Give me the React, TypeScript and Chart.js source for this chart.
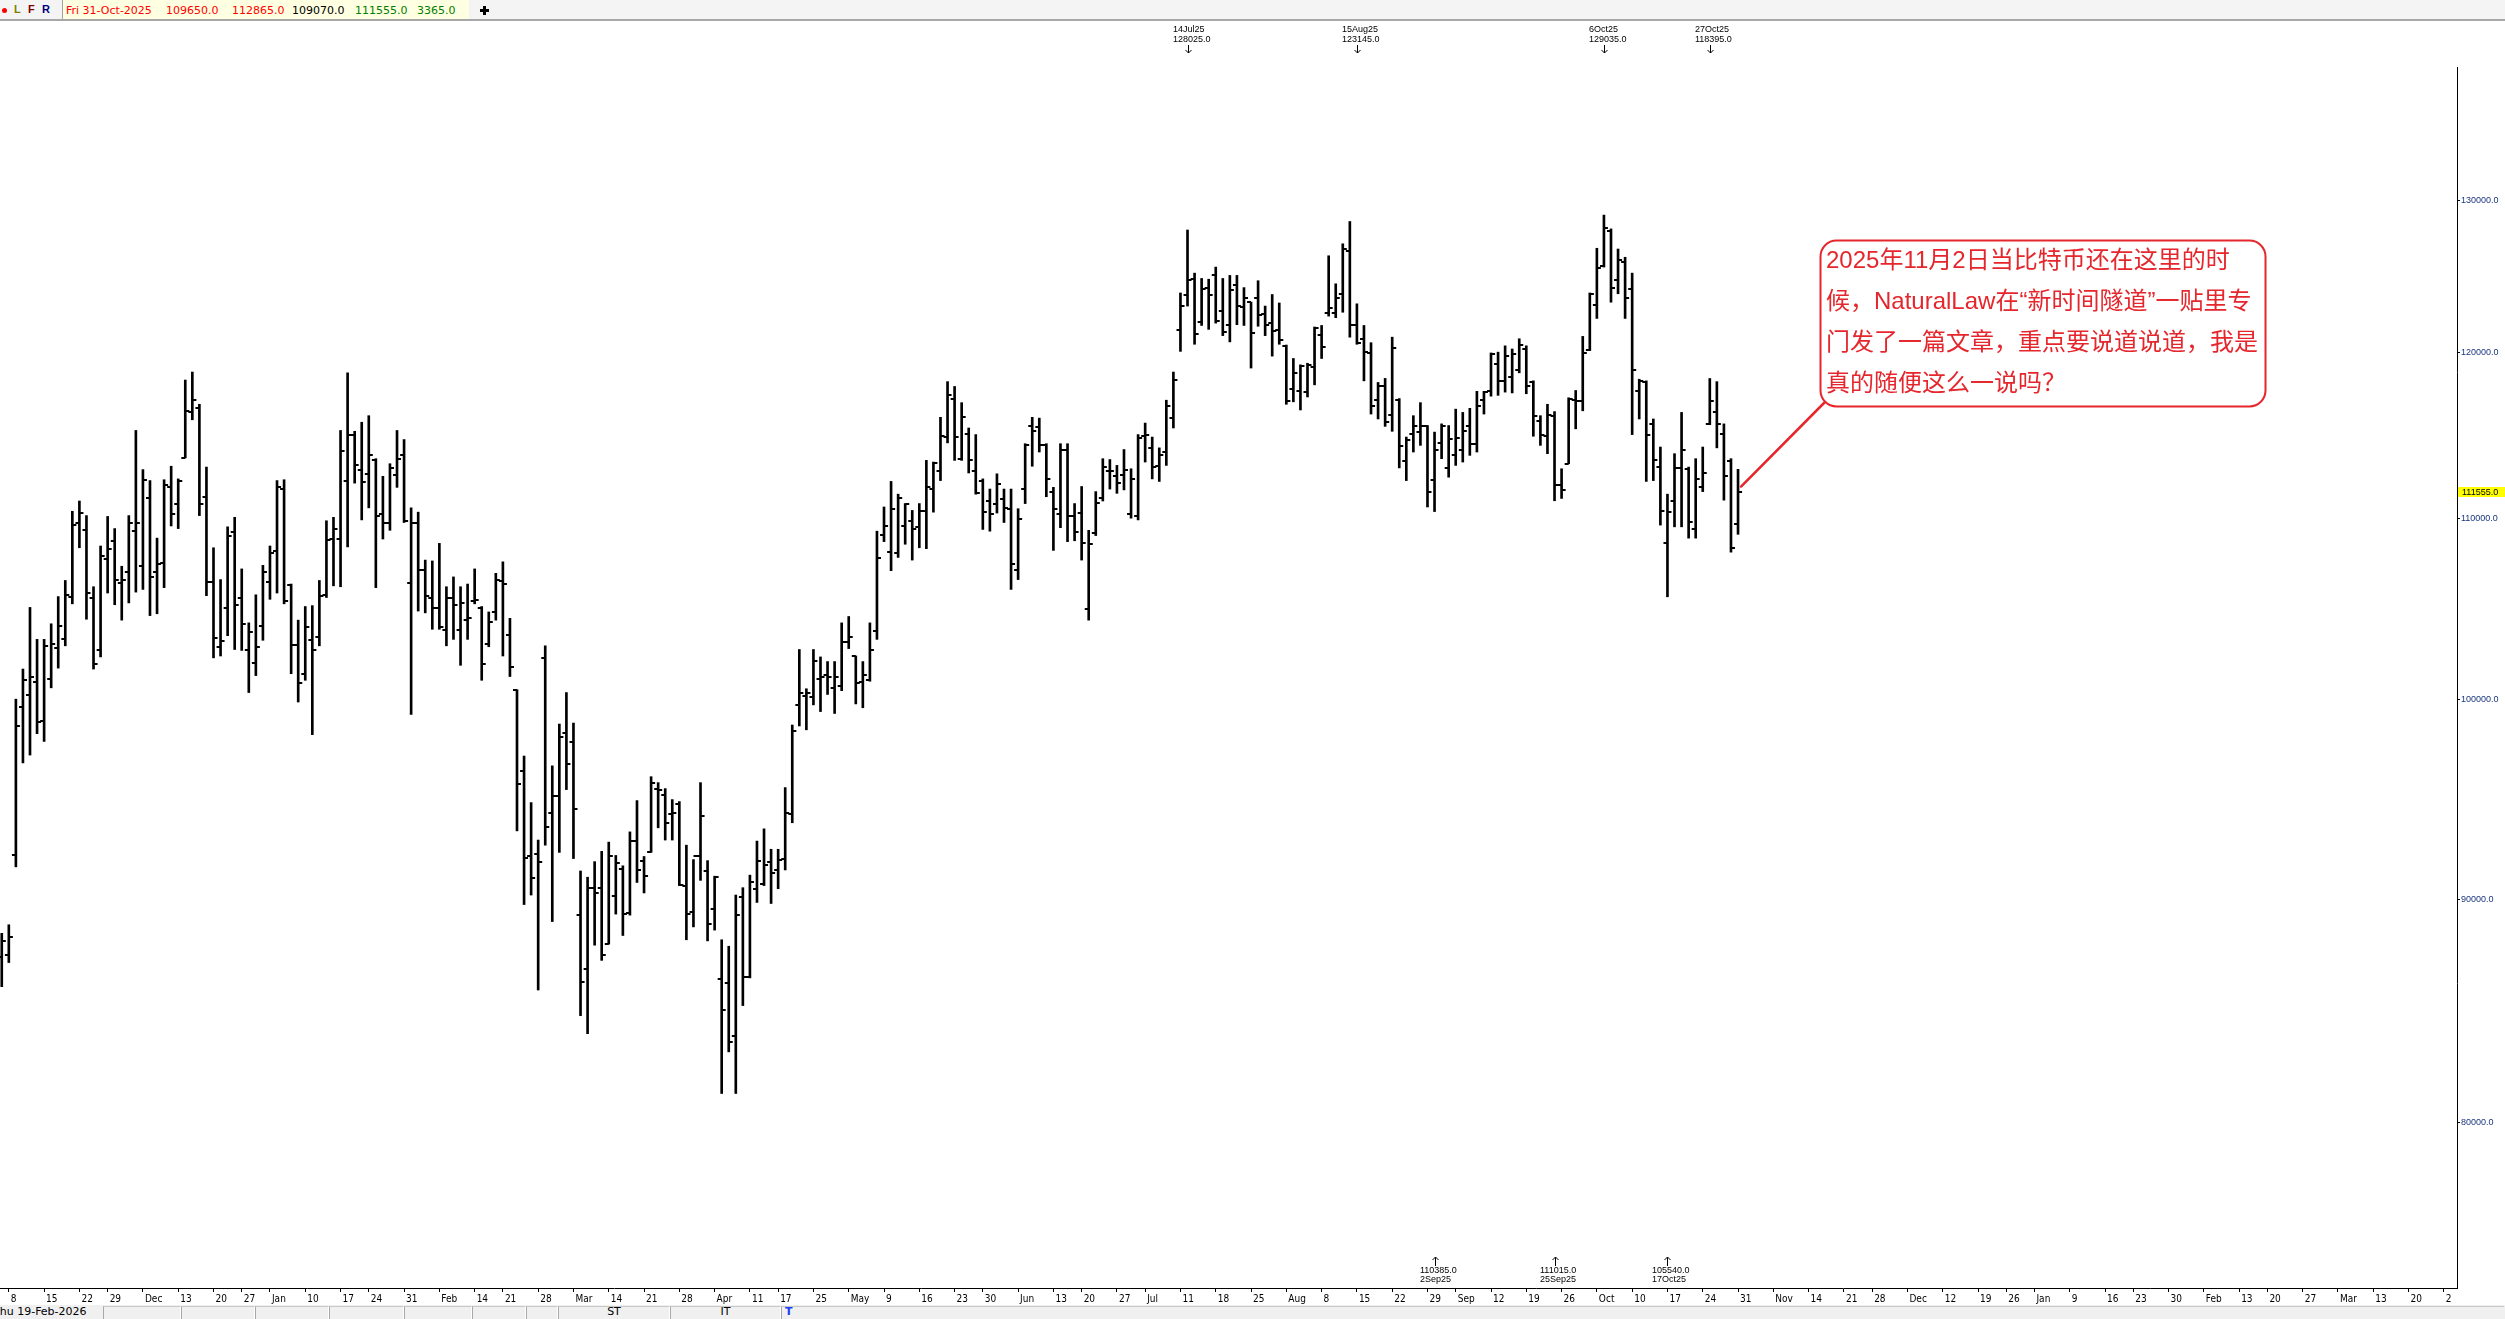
import React, { useEffect, useRef } from "react";
import { Chart, registerables } from "chart.js";

Chart.register(...registerables);

const W = 2505;
const H = 1319;

// ---- calendar (trading days) ----
const FIRST_DAY = "2024-11-07";
const LAST_DAY = "2026-03-30";
const CLOSED_DAYS = [
  "2024-11-28", "2024-12-25", "2025-01-01", "2025-01-20", "2025-02-17",
  "2025-04-18", "2025-05-26", "2025-06-19", "2025-07-04", "2025-09-01",
  "2025-11-27", "2025-12-25", "2026-01-01", "2026-01-19", "2026-02-16",
];
const MONTHS = ["Jan", "Feb", "Mar", "Apr", "May", "Jun", "Jul", "Aug", "Sep", "Oct", "Nov", "Dec"];

// ---- daily OHLC, 7-Nov-2024 .. 31-Oct-2025 ----
const OPEN = [
  87300, 87400, 92100, 99600, 100200, 100900, 98850, 101050, 102750, 103200,
  105550, 109750, 109300, 105450, 102600, 107650, 108700, 106300, 106950, 109250,
  107250, 111150, 106900, 107450, 111850, 110800, 113550, 116300, 116600, 111250,
  106350, 102800, 104900, 109200, 105450, 102650, 101950, 103950, 106350, 108100,
  111700, 106200, 102900, 101350, 103150, 103350, 105650, 108800, 108800, 112200,
  114950, 112800, 112600, 113400, 110250, 109750, 112550, 113750, 106300, 109750,
  107050, 105500, 104900, 103700, 105500, 103700, 104250, 105300, 104900, 102950,
  104700, 106400, 103450, 100500, 96300, 92050, 92150, 102200, 94200, 95050,
  98250, 97750, 89250, 86750, 90550, 90550, 87900, 90150, 91450, 89350,
  92800, 91850, 92250, 95400, 95100, 94150, 94650, 90650, 89400, 92050,
  91350, 89550, 86300, 86100, 83750, 90100, 86400, 90500, 90750, 91800,
  91400, 91950, 94150, 99700, 100150, 100100, 101050, 101300, 100600, 100700,
  103050, 102300, 100900, 101000, 103650, 109050, 108050, 108000, 109550, 109850,
  109500, 110400, 111700, 112750, 114800, 117100, 113500, 115000, 112750, 112200,
  111000, 110800, 111100, 110550, 107050, 111700, 115500, 115400, 114300, 111500,
  110250, 114050, 110100, 110300, 104850, 109150, 111150, 112750, 112500, 112550,
  110250, 110100, 114850, 114150, 113050, 113900, 115950, 121450, 123700, 124750,
  122000, 124200, 125050, 122700, 121750, 124350, 122950, 123250, 123500, 122500,
  121900, 121450, 120450, 117750, 117600, 117550, 119100, 121150, 122550, 122550,
  123800, 126600, 121800, 120900, 120000, 117050, 117900, 116150, 117050, 113350,
  115000, 115100, 115450, 112250, 114450, 112950, 113700, 114050, 115450, 114400,
  117050, 117600, 119300, 118250, 118500, 118900, 120250, 118200, 115750, 114850,
  116100, 111950, 113200, 117050, 117000, 120200, 123100, 125600, 127950, 124700,
  125900, 124100, 117650, 118200, 115600, 113000, 108550, 111000, 112950, 112900,
  109400, 111850, 115600, 116350, 115000, 113350, 109650,
];
const HIGH = [
  88400, 88800, 100000, 101600, 104950, 103200, 103200, 104050, 105550, 106450,
  110400, 111000, 110150, 106100, 108400, 110100, 109400, 107250, 110150, 115200,
  112850, 112200, 108850, 112250, 113050, 112300, 118300, 118800, 116800, 113000,
  108300, 106500, 109500, 110050, 107100, 104100, 105650, 107300, 108400, 112200,
  112250, 106250, 104250, 105000, 105050, 106450, 109850, 110050, 115200, 118750,
  115150, 115700, 116100, 113500, 112450, 113200, 115200, 114650, 110600, 110350,
  107600, 107550, 108550, 106100, 106650, 106100, 106250, 107100, 105000, 104700,
  106850, 107500, 104350, 100500, 97050, 94700, 92850, 102850, 96550, 98700,
  100350, 98750, 91350, 91050, 91800, 92300, 92750, 92100, 91600, 93250,
  94800, 92050, 96000, 95700, 95400, 94850, 94750, 92600, 91900, 95700,
  91850, 91100, 88100, 87800, 90200, 90550, 91150, 92800, 93400, 92400,
  92400, 95450, 98650, 102650, 100550, 102650, 102250, 102000, 102000, 104100,
  104450, 102300, 102000, 104100, 109250, 110650, 112150, 111400, 110850, 110450,
  110850, 113400, 113300, 116000, 118200, 117900, 116900, 115350, 114950, 112300,
  111700, 112600, 111700, 111700, 110550, 114400, 116000, 115950, 114400, 111800,
  114400, 114400, 110850, 111850, 109300, 111550, 113500, 113450, 113100, 114050,
  112900, 114950, 115650, 114800, 114150, 117050, 118800, 123850, 128025, 125150,
  124800, 124750, 125550, 124800, 125000, 125000, 124200, 123250, 124650, 123000,
  123750, 123200, 120500, 119650, 119250, 119350, 121650, 121750, 126300, 124450,
  127100, 128600, 123145, 121750, 120650, 118150, 118400, 121000, 117150, 114800,
  116100, 116900, 115500, 115100, 115600, 115500, 116500, 116300, 116550, 117600,
  117600, 120000, 120050, 120450, 120250, 120900, 120450, 118250, 116100, 116800,
  116350, 112900, 117200, 117650, 121050, 123850, 126800, 129035, 128100, 126750,
  126200, 125150, 118350, 118250, 115900, 114200, 111400, 113800, 116300, 113000,
  113500, 114200, 118395, 118200, 115600, 113500, 112865,
];
const LOW = [
  85950, 87050, 91550, 96700, 97100, 98200, 97800, 100600, 101650, 102850,
  105150, 108300, 104300, 101600, 102250, 105750, 105100, 104250, 105200, 105800,
  105950, 104500, 104600, 106050, 109550, 109400, 113550, 115850, 110150, 105600,
  102200, 102300, 103400, 102650, 102600, 100350, 101250, 103150, 105400, 105750,
  105150, 101350, 99850, 101000, 98150, 102850, 105500, 106150, 106100, 108350,
  112050, 109900, 110600, 106050, 108800, 109300, 111800, 109750, 99200, 104750,
  104650, 103750, 103750, 102850, 103200, 101800, 103200, 105150, 101000, 102800,
  104250, 102300, 101200, 93300, 89750, 90200, 85800, 92600, 88950, 92250,
  95350, 91950, 84650, 83850, 87850, 87150, 87900, 89300, 88300, 89250,
  90800, 90300, 92250, 93450, 92850, 92850, 90650, 88100, 88700, 90900,
  88050, 88550, 81250, 83050, 81250, 85100, 86350, 89850, 90650, 89800,
  90500, 91400, 93700, 98600, 98400, 99700, 99350, 100250, 99250, 100450,
  102700, 99750, 99550, 100950, 103200, 108650, 107000, 107750, 108500, 107600,
  108300, 108250, 110350, 112200, 114450, 113400, 113400, 112650, 111400, 109350,
  109250, 110300, 109750, 105950, 106500, 110850, 113050, 113900, 111250, 108150,
  109450, 108650, 108700, 107600, 104250, 109000, 111000, 111700, 111450, 111650,
  110000, 109900, 113300, 112300, 112150, 113100, 115350, 120100, 123000, 120550,
  121750, 121500, 121900, 121100, 120700, 121800, 121750, 119050, 121700, 121100,
  119800, 120550, 116800, 116950, 116450, 117250, 118000, 119650, 122350, 122250,
  122600, 121000, 120550, 118250, 116200, 115900, 115450, 115150, 112950, 112200,
  113900, 114300, 110650, 110385, 113500, 112400, 113100, 113300, 113700, 113900,
  116200, 117300, 117350, 117550, 117500, 118750, 117450, 114850, 114300, 113800,
  111015, 111150, 113200, 115300, 116400, 120150, 122200, 125550, 123250, 123800,
  122200, 114950, 115900, 112150, 112200, 109600, 105540, 109500, 109500, 108850,
  108850, 111550, 115550, 114150, 111050, 108050, 109070,
];
const CLOSE = [
  88050, 88250, 98600, 101000, 101150, 98800, 102850, 102950, 103950, 105650,
  109600, 110300, 105750, 101850, 107850, 108250, 106500, 106450, 109750, 109700,
  112250, 106650, 107400, 111950, 110250, 112150, 116400, 117050, 110800, 106350,
  103250, 103100, 108950, 105100, 104050, 103600, 102800, 106900, 108000, 111850,
  105300, 102900, 100850, 103900, 102600, 105600, 108750, 109350, 113950, 114950,
  113100, 112100, 113700, 110150, 109750, 112950, 113500, 109850, 109750, 107050,
  105600, 104900, 103850, 105500, 105100, 105200, 104350, 105350, 101850, 104150,
  106500, 106250, 101700, 95650, 92000, 91000, 91800, 93500, 95050, 98050,
  96650, 94400, 86150, 90550, 90300, 87400, 92050, 91750, 89300, 92800,
  91400, 91100, 95700, 95350, 93700, 94200, 90700, 89300, 92050, 94050,
  88850, 91050, 84900, 83500, 89250, 86400, 90800, 91850, 91650, 91250,
  91900, 94200, 98350, 100300, 100300, 102050, 101150, 101150, 101200, 103050,
  103350, 100850, 101300, 102650, 107700, 109550, 110550, 111150, 110800, 109350,
  110400, 111800, 113250, 114850, 117350, 114800, 116000, 113400, 111450, 110350,
  110250, 112000, 110600, 107400, 109950, 114350, 115150, 114300, 112300, 110550,
  114050, 110100, 109200, 108600, 108500, 110900, 113000, 112750, 112050, 112800,
  112300, 114750, 114900, 113000, 113700, 116700, 118300, 123000, 124700, 121200,
  124100, 123750, 122050, 121300, 124050, 123000, 123500, 121250, 122450, 121750,
  121400, 120850, 117000, 118750, 119200, 119250, 121600, 120400, 122850, 123500,
  126750, 121800, 120650, 120050, 116700, 117900, 115700, 120300, 114250, 114600,
  115450, 115450, 111500, 114050, 115500, 114700, 114750, 115150, 114400, 116700,
  117550, 119950, 118250, 119800, 119950, 120500, 117900, 116100, 114900, 116150,
  111950, 111650, 117150, 117000, 120000, 123800, 125500, 128150, 124200, 126050,
  123500, 118900, 118250, 114950, 113400, 110400, 110350, 112950, 114050, 109800,
  112300, 112650, 117000, 115600, 112450, 108300, 111555,
];

const Y_TICKS = [80000, 90000, 100000, 110000, 120000, 130000];
const Y_MIN = 73340;
const Y_MAX = 139500;
const LAST_PRICE = 111555;

const TOP_MARKS = [
  { date: "2025-07-14", label: "14Jul25", value: "128025.0" },
  { date: "2025-08-15", label: "15Aug25", value: "123145.0" },
  { date: "2025-10-06", label: "6Oct25", value: "129035.0" },
  { date: "2025-10-27", label: "27Oct25", value: "118395.0" },
];
const BOTTOM_MARKS = [
  { date: "2025-09-02", label: "2Sep25", value: "110385.0" },
  { date: "2025-09-25", label: "25Sep25", value: "111015.0" },
  { date: "2025-10-17", label: "17Oct25", value: "105540.0" },
];

const NOTE_LINES = [
  "2025年11月2日当比特币还在这里的时",
  "候，NaturalLaw在“新时间隧道”一贴里专",
  "门发了一篇文章，重点要说道说道，我是",
  "真的随便这么一说吗？",
];

const HEADER_FLAGS = [
  { text: "L", x: 14, color: "#808000" },
  { text: "F", x: 28, color: "#800000" },
  { text: "R", x: 42, color: "#000080" },
];
const HEADER_QUOTE = [
  { text: "Fri 31-Oct-2025", x: 66, color: "#ff0000" },
  { text: "109650.0", x: 166, color: "#ff0000" },
  { text: "112865.0", x: 232, color: "#ff0000" },
  { text: "109070.0", x: 292, color: "#000000" },
  { text: "111555.0", x: 355, color: "#008000" },
  { text: "3365.0", x: 417, color: "#008000" },
];
const STATUS_DIVIDERS = [103, 181, 255, 329, 404, 472, 526, 558, 670, 781];

// ---- derived calendar ----
const isoOf = (d: Date) => d.toISOString().slice(0, 10);
function buildTradingDays(): string[] {
  const closed = new Set(CLOSED_DAYS);
  const out: string[] = [];
  const d = new Date(FIRST_DAY + "T00:00:00Z");
  const end = new Date(LAST_DAY + "T00:00:00Z");
  while (d.getTime() <= end.getTime()) {
    const dow = d.getUTCDay();
    const iso = isoOf(d);
    if (dow !== 0 && dow !== 6 && !closed.has(iso)) out.push(iso);
    d.setUTCDate(d.getUTCDate() + 1);
  }
  return out;
}
const DATES = buildTradingDays();
const TICK_LABELS = new Map<number, string>();
(() => {
  const closed = new Set(CLOSED_DAYS);
  DATES.forEach((iso, i) => {
    const d = new Date(iso + "T00:00:00Z");
    const dow = d.getUTCDay();
    const next = isoOf(new Date(d.getTime() + 86400000));
    if (dow === 5 || (dow === 4 && closed.has(next))) {
      const day = d.getUTCDate();
      TICK_LABELS.set(i, day <= 7 ? MONTHS[d.getUTCMonth()] : String(day));
    }
  });
})();

const PLOT_RIGHT = 2457;
const BAR_STEP = 7.058;
const X_MIN = -0.25;
const X_MAX = X_MIN + PLOT_RIGHT / BAR_STEP;

const RED = "#e5262c";

const annotationPlugin = {
  id: "annotations",
  afterDraw(chart: any) {
    const { ctx, chartArea } = chart;
    const xs = chart.scales.x;
    const ys = chart.scales.y;
    ctx.save();
    // clip the x labels that run past the plot's right edge
    ctx.fillStyle = "#ffffff";
    ctx.fillRect(chartArea.right - 5, chartArea.bottom + 5, W - chartArea.right + 5, 12);

    ctx.fillStyle = "#000";
    ctx.strokeStyle = "#000";
    ctx.lineWidth = 1;
    ctx.font = '9px "Liberation Sans", Arial, sans-serif';
    ctx.textAlign = "left";
    ctx.textBaseline = "middle";
    for (const m of TOP_MARKS) {
      const x = Math.round(xs.getPixelForValue(DATES.indexOf(m.date))) + 0.5;
      ctx.fillText(m.label, x - 15.5, 30);
      ctx.fillText(m.value, x - 15.5, 39.5);
      ctx.beginPath();
      ctx.moveTo(x, 45);
      ctx.lineTo(x, 53);
      ctx.moveTo(x - 3, 50);
      ctx.lineTo(x, 53);
      ctx.lineTo(x + 3, 50);
      ctx.stroke();
    }
    for (const m of BOTTOM_MARKS) {
      const x = Math.round(xs.getPixelForValue(DATES.indexOf(m.date))) + 0.5;
      ctx.beginPath();
      ctx.moveTo(x, 1266);
      ctx.lineTo(x, 1257);
      ctx.moveTo(x - 3, 1260);
      ctx.lineTo(x, 1257);
      ctx.lineTo(x + 3, 1260);
      ctx.stroke();
      ctx.fillText(m.value, x - 15.5, 1271);
      ctx.fillText(m.label, x - 15.5, 1280);
    }
    // last price tag on the axis
    const yl = Math.round(ys.getPixelForValue(LAST_PRICE));
    ctx.fillStyle = "#ffff00";
    ctx.fillRect(chartArea.right + 1, yl - 5, W - chartArea.right - 1, 10);
    ctx.fillStyle = "#000";
    ctx.fillText(LAST_PRICE.toFixed(1), chartArea.right + 5, yl + 0.5);

    // callout
    const lastIdx = CLOSE.length - 1;
    const ex = xs.getPixelForValue(lastIdx) + 3;
    const ey = ys.getPixelForValue(CLOSE[lastIdx]) - 5;
    ctx.strokeStyle = RED;
    ctx.lineWidth = 2.5;
    ctx.lineCap = "round";
    ctx.beginPath();
    ctx.moveTo(1825, 402);
    ctx.lineTo(ex, ey);
    ctx.stroke();
    ctx.beginPath();
    ctx.roundRect(1820.5, 240.5, 445, 166, 16);
    ctx.fillStyle = "#ffffff";
    ctx.fill();
    ctx.lineWidth = 2;
    ctx.stroke();
    ctx.fillStyle = RED;
    ctx.font = '24px "Liberation Sans", "Noto Sans CJK SC", sans-serif';
    const ly = [261, 302, 343, 384];
    NOTE_LINES.forEach((t, i) => ctx.fillText(t, 1826, ly[i]));
    ctx.restore();
  },
};

function tickCanvas(side: "L" | "R") {
  const c = document.createElement("canvas");
  c.width = 10;
  c.height = 2;
  const g = c.getContext("2d")!;
  g.fillStyle = "#000";
  if (side === "L") g.fillRect(1, 0, 4, 2);
  else g.fillRect(5, 0, 4, 2);
  return c;
}

export default function App() {
  const ref = useRef<HTMLCanvasElement>(null);

  useEffect(() => {
    document.body.style.margin = "0";
    const canvas = ref.current;
    if (!canvas) return;
    const ranges = HIGH.map((h, i) => ({ x: i, y: [LOW[i], h] }));
    const opens = OPEN.map((v, i) => ({ x: i, y: v }));
    const closes = CLOSE.map((v, i) => ({ x: i, y: v }));
    const axisFontX = { family: "'Liberation Sans Narrow', 'DejaVu Sans Condensed', 'Liberation Sans', sans-serif", size: 10 };
    const chart = new Chart(canvas, {
      type: "bar",
      data: {
        datasets: [
          {
            type: "bar",
            data: ranges as any,
            backgroundColor: "#000",
            borderWidth: 0,
            barThickness: 2,
          } as any,
          {
            type: "line",
            data: opens as any,
            showLine: false,
            pointStyle: tickCanvas("L") as any,
            pointRadius: 3,
            pointHoverRadius: 3,
          } as any,
          {
            type: "line",
            data: closes as any,
            showLine: false,
            pointStyle: tickCanvas("R") as any,
            pointRadius: 3,
            pointHoverRadius: 3,
          } as any,
        ],
      },
      options: {
        animation: false,
        responsive: false,
        maintainAspectRatio: false,
        devicePixelRatio: 1,
        events: [],
        layout: { autoPadding: false, padding: { left: 0, right: 0, top: 67, bottom: 14 } },
        plugins: { legend: { display: false }, tooltip: { enabled: false } },
        scales: {
          x: {
            type: "linear",
            position: "bottom",
            min: X_MIN,
            max: X_MAX,
            bounds: "data",
            offset: false,
            afterBuildTicks: (s: any) => {
              s.ticks = Array.from(TICK_LABELS.keys()).map((v) => ({ value: v }));
            },
            afterFit: (s: any) => {
              s.height = 17;
            },
            ticks: {
              autoSkip: false,
              maxRotation: 0,
              minRotation: 0,
              align: "start",
              labelOffset: 2,
              padding: 1,
              color: "#000",
              font: axisFontX,
              callback: (v: any) => TICK_LABELS.get(Math.round(Number(v))) ?? "",
            },
            grid: { drawOnChartArea: false, drawTicks: true, tickLength: 4, color: "#000", offset: false },
            border: { display: true, color: "#000", width: 1 },
          } as any,
          y: {
            type: "logarithmic",
            position: "right",
            min: Y_MIN,
            max: Y_MAX,
            bounds: "data",
            afterBuildTicks: (s: any) => {
              s.ticks = Y_TICKS.map((v) => ({ value: v }));
            },
            afterFit: (s: any) => {
              s.width = W - PLOT_RIGHT;
            },
            ticks: {
              autoSkip: false,
              padding: 1,
              color: "#1a3580",
              font: { family: "'Liberation Sans', Arial, sans-serif", size: 9 },
              callback: (v: any) => Number(v).toFixed(1),
            },
            grid: { drawOnChartArea: false, drawTicks: true, tickLength: 3, color: "#000" },
            border: { display: true, color: "#000", width: 1 },
          } as any,
        },
      },
      plugins: [annotationPlugin],
    });
    return () => chart.destroy();
  }, []);

  const statusCells: { l: number; r: number }[] = [];
  for (let i = 0; i < STATUS_DIVIDERS.length; i++) {
    statusCells.push({ l: STATUS_DIVIDERS[i], r: i + 1 < STATUS_DIVIDERS.length ? STATUS_DIVIDERS[i + 1] : W });
  }

  return (
    <div style={{ position: "relative", width: W, height: H, background: "#fff", overflow: "hidden" }}>
      <style>{"html,body{margin:0;padding:0;overflow:hidden}"}</style>
      <canvas ref={ref} width={W} height={H} style={{ position: "absolute", left: 0, top: 0, width: W, height: H }} />
      {/* header */}
      <div
        style={{
          position: "absolute", left: 0, top: 0, width: W, height: 19,
          background: "#f4f4f4", borderBottom: "2px solid #a8a8a8",
        }}
      >
        <div style={{ position: "absolute", left: 2, top: 8, width: 5, height: 5, borderRadius: "50%", background: "#ff0000" }} />
        {HEADER_FLAGS.map((f) => (
          <span
            key={f.text}
            style={{ position: "absolute", left: f.x, top: 3, font: 'bold 11px "Liberation Sans", Arial, sans-serif', color: f.color, lineHeight: "13px" }}
          >
            {f.text}
          </span>
        ))}
        <div style={{ position: "absolute", left: 62, top: 0, width: 406, height: 19, background: "#ffffe1", borderLeft: "1px solid #a0a0a0" }} />
        {HEADER_QUOTE.map((q) => (
          <span
            key={q.text + q.x}
            style={{ position: "absolute", left: q.x, top: 4, font: '11px "DejaVu Sans", sans-serif', color: q.color, lineHeight: "13px", whiteSpace: "nowrap" }}
          >
            {q.text}
          </span>
        ))}
        <div style={{ position: "absolute", left: 480, top: 9, width: 9, height: 3, background: "#000" }} />
        <div style={{ position: "absolute", left: 483, top: 6, width: 3, height: 9, background: "#000" }} />
      </div>
      {/* status bar */}
      <div style={{ position: "absolute", left: 0, top: 1305, width: W, height: 14, background: "#f0f0f0", overflow: "hidden" }}>
        <span style={{ position: "absolute", left: -7, top: 0, font: '11px "DejaVu Sans", sans-serif', color: "#000", lineHeight: "14px", whiteSpace: "nowrap" }}>
          Thu 19-Feb-2026
        </span>
        {statusCells.map((c, i) => (
          <div
            key={i}
            style={{
              position: "absolute", left: c.l, top: 1, width: c.r - c.l - 2, height: 12,
              borderLeft: "1px solid #a8a8a8", borderTop: "1px solid #c8c8c8",
              borderRight: i + 1 < statusCells.length ? "1px solid #ffffff" : "none",
            }}
          />
        ))}
        <span style={{ position: "absolute", left: 558, width: 112, textAlign: "center", top: 0, font: '11px "DejaVu Sans", sans-serif', color: "#000", lineHeight: "14px" }}>
          ST
        </span>
        <span style={{ position: "absolute", left: 670, width: 111, textAlign: "center", top: 0, font: '11px "DejaVu Sans", sans-serif', color: "#000", lineHeight: "14px" }}>
          IT
        </span>
        <span style={{ position: "absolute", left: 785, top: 0, font: 'bold 11px "DejaVu Sans", sans-serif', color: "#1a3cff", lineHeight: "14px" }}>
          T
        </span>
      </div>
    </div>
  );
}
